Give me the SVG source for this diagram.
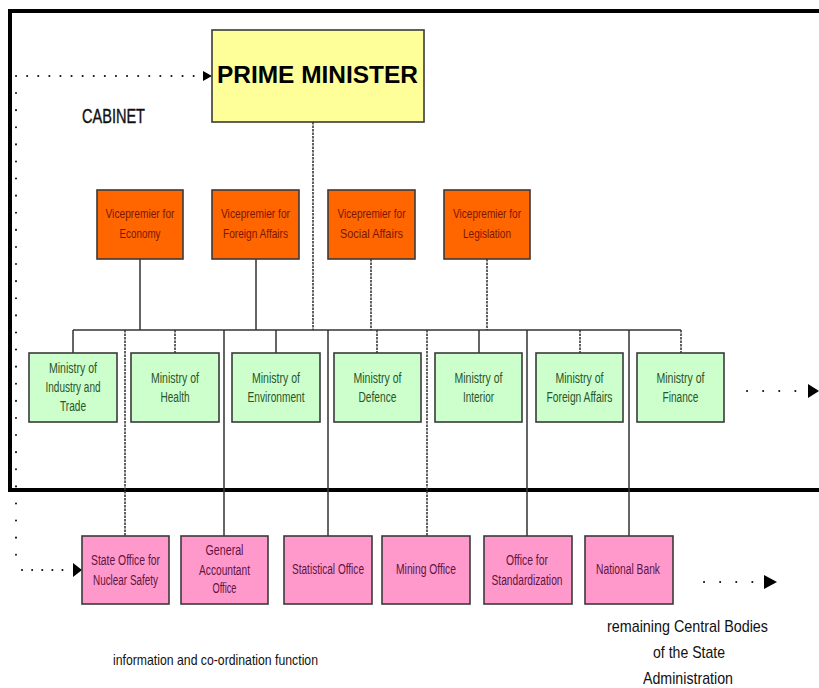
<svg xmlns="http://www.w3.org/2000/svg" width="819" height="688" viewBox="0 0 819 688">
<defs>
<style>
text{font-family:"Liberation Sans",Arial,sans-serif;text-anchor:middle}
.box{stroke:#3a3a3a;stroke-width:1.6}
.pm{fill:#FFFF99}
.vp{fill:#FF6600}
.mi{fill:#CCFFCC}
.of{fill:#FF99CC}
.vpt{font-size:13px;fill:#7A1600}
.mit{font-size:14px;fill:#2A552A}
.oft{font-size:14px;fill:#5E1443}
.lbl{font-size:15px;fill:#111}
.ln{stroke:#333;stroke-width:1.5;fill:none}
.dl{stroke:#3a3a3a;stroke-width:1.6;fill:none;stroke-dasharray:2.5 1}
.dots{stroke:#111;stroke-width:2;fill:none;stroke-linecap:round}
</style>
</defs>
<rect width="819" height="688" fill="#fff"/>
<path d="M819,11 H10 V490 H819" fill="none" stroke="#000" stroke-width="4"/>

<g id="connectors">
<path class="dl" d="M313,122 V330"/>
<path class="ln" d="M140,259 V330 M256,259 V330"/>
<path class="dl" d="M371,259 V330 M487,259 V330"/>
<path class="ln" d="M73,330 H681"/>
<path class="ln" d="M73,330 V353 M276,330 V353 M479,330 V353"/>
<path class="dl" d="M175,330 V353 M377,330 V353 M580,330 V353 M681,330 V353"/>
<path class="dl" d="M125,330 V536 M427,330 V536"/>
<path class="ln" d="M224,330 V536 M328,330 V536 M527,330 V536 M629,330 V536"/>
<path class="dots" stroke-dasharray="0.1 11" d="M16,76 H200"/>
<polygon points="203,71 212,76 203,81" fill="#000"/>
<path class="dots" stroke-dasharray="0.1 17" d="M16,93 V562"/>
<path class="dots" stroke-dasharray="0.1 10" d="M22,570 H70"/>
<polygon points="73,563 82,570 73,577" fill="#000"/>
<path class="dots" stroke-dasharray="0.1 16" d="M747,391 H800"/>
<polygon points="808,384 819,391 808,398" fill="#000"/>
<path class="dots" stroke-dasharray="0.1 16" d="M704,582 H755"/>
<polygon points="764,575 777,582 764,589" fill="#000"/>
</g>

<g id="prime-minister">
<rect class="box pm" x="212" y="30" width="212" height="92"/>
<text x="317.5" y="83" font-size="24" font-weight="bold" fill="#000" textLength="201" lengthAdjust="spacingAndGlyphs">PRIME MINISTER</text>
</g>

<g id="cabinet-label">
<text class="lbl" x="113.5" y="123" style="font-size:20px;stroke:#111;stroke-width:0.4" textLength="63" lengthAdjust="spacingAndGlyphs">CABINET</text>
</g>

<g id="vp-economy">
<rect class="box vp" x="97" y="190" width="86" height="69"/>
<text class="vpt" x="140" y="218" textLength="69" lengthAdjust="spacingAndGlyphs">Vicepremier for</text>
<text class="vpt" x="140" y="238" textLength="41" lengthAdjust="spacingAndGlyphs">Economy</text>
</g>
<g id="vp-foreign">
<rect class="box vp" x="212" y="190" width="87" height="69"/>
<text class="vpt" x="255.5" y="218" textLength="69" lengthAdjust="spacingAndGlyphs">Vicepremier for</text>
<text class="vpt" x="255.5" y="238" textLength="65" lengthAdjust="spacingAndGlyphs">Foreign Affairs</text>
</g>
<g id="vp-social">
<rect class="box vp" x="328" y="190" width="87" height="69"/>
<text class="vpt" x="371.5" y="218" textLength="68" lengthAdjust="spacingAndGlyphs">Vicepremier for</text>
<text class="vpt" x="371.5" y="238" textLength="63" lengthAdjust="spacingAndGlyphs">Social Affairs</text>
</g>
<g id="vp-legislation">
<rect class="box vp" x="444" y="190" width="86" height="69"/>
<text class="vpt" x="487" y="218" textLength="68" lengthAdjust="spacingAndGlyphs">Vicepremier for</text>
<text class="vpt" x="487" y="238" textLength="48" lengthAdjust="spacingAndGlyphs">Legislation</text>
</g>

<g id="min-industry">
<rect class="box mi" x="29" y="353" width="88" height="69"/>
<text class="mit" x="73" y="373" textLength="48" lengthAdjust="spacingAndGlyphs">Ministry of</text>
<text class="mit" x="73" y="392" textLength="55" lengthAdjust="spacingAndGlyphs">Industry and</text>
<text class="mit" x="73" y="411" textLength="26" lengthAdjust="spacingAndGlyphs">Trade</text>
</g>
<g id="min-health">
<rect class="box mi" x="131" y="353" width="88" height="69"/>
<text class="mit" x="175" y="383" textLength="48" lengthAdjust="spacingAndGlyphs">Ministry of</text>
<text class="mit" x="175" y="402" textLength="29" lengthAdjust="spacingAndGlyphs">Health</text>
</g>
<g id="min-environment">
<rect class="box mi" x="232" y="353" width="88" height="69"/>
<text class="mit" x="276" y="383" textLength="48" lengthAdjust="spacingAndGlyphs">Ministry of</text>
<text class="mit" x="276" y="402" textLength="57" lengthAdjust="spacingAndGlyphs">Environment</text>
</g>
<g id="min-defence">
<rect class="box mi" x="334" y="353" width="87" height="69"/>
<text class="mit" x="377.5" y="383" textLength="48" lengthAdjust="spacingAndGlyphs">Ministry of</text>
<text class="mit" x="377.5" y="402" textLength="38" lengthAdjust="spacingAndGlyphs">Defence</text>
</g>
<g id="min-interior">
<rect class="box mi" x="435" y="353" width="87" height="69"/>
<text class="mit" x="478.5" y="383" textLength="48" lengthAdjust="spacingAndGlyphs">Ministry of</text>
<text class="mit" x="478.5" y="402" textLength="31" lengthAdjust="spacingAndGlyphs">Interior</text>
</g>
<g id="min-foreign">
<rect class="box mi" x="536" y="353" width="87" height="69"/>
<text class="mit" x="579.5" y="383" textLength="48" lengthAdjust="spacingAndGlyphs">Ministry of</text>
<text class="mit" x="579.5" y="402" textLength="66" lengthAdjust="spacingAndGlyphs">Foreign Affairs</text>
</g>
<g id="min-finance">
<rect class="box mi" x="637" y="353" width="87" height="69"/>
<text class="mit" x="680.5" y="383" textLength="48" lengthAdjust="spacingAndGlyphs">Ministry of</text>
<text class="mit" x="680.5" y="402" textLength="36" lengthAdjust="spacingAndGlyphs">Finance</text>
</g>

<g id="off-nuclear">
<rect class="box of" x="82" y="536" width="87" height="68"/>
<text class="oft" x="125.5" y="565" textLength="69" lengthAdjust="spacingAndGlyphs">State Office for</text>
<text class="oft" x="125.5" y="585" textLength="65" lengthAdjust="spacingAndGlyphs">Nuclear Safety</text>
</g>
<g id="off-accountant">
<rect class="box of" x="181" y="536" width="87" height="68"/>
<text class="oft" x="224.5" y="555" textLength="38" lengthAdjust="spacingAndGlyphs">General</text>
<text class="oft" x="224.5" y="575" textLength="51" lengthAdjust="spacingAndGlyphs">Accountant</text>
<text class="oft" x="224.5" y="593" textLength="24" lengthAdjust="spacingAndGlyphs">Office</text>
</g>
<g id="off-statistical">
<rect class="box of" x="284" y="536" width="88" height="68"/>
<text class="oft" x="328" y="574" textLength="72" lengthAdjust="spacingAndGlyphs">Statistical Office</text>
</g>
<g id="off-mining">
<rect class="box of" x="382" y="536" width="88" height="68"/>
<text class="oft" x="426" y="574" textLength="60" lengthAdjust="spacingAndGlyphs">Mining Office</text>
</g>
<g id="off-standardization">
<rect class="box of" x="484" y="536" width="88" height="68"/>
<text class="oft" x="527" y="565" textLength="42" lengthAdjust="spacingAndGlyphs">Office for</text>
<text class="oft" x="527" y="585" textLength="71" lengthAdjust="spacingAndGlyphs">Standardization</text>
</g>
<g id="off-bank">
<rect class="box of" x="585" y="536" width="88" height="68"/>
<text class="oft" x="628" y="574" textLength="64" lengthAdjust="spacingAndGlyphs">National Bank</text>
</g>

<g id="labels">
<text class="lbl" x="215.5" y="665" style="font-size:15px" textLength="205" lengthAdjust="spacingAndGlyphs">information and co-ordination function</text>
<text class="lbl" x="687.5" y="632" style="font-size:17px" textLength="161" lengthAdjust="spacingAndGlyphs">remaining Central Bodies</text>
<text class="lbl" x="689" y="658" style="font-size:17px" textLength="72" lengthAdjust="spacingAndGlyphs">of the State</text>
<text class="lbl" x="688" y="684" style="font-size:17px" textLength="90" lengthAdjust="spacingAndGlyphs">Administration</text>
</g>
</svg>
